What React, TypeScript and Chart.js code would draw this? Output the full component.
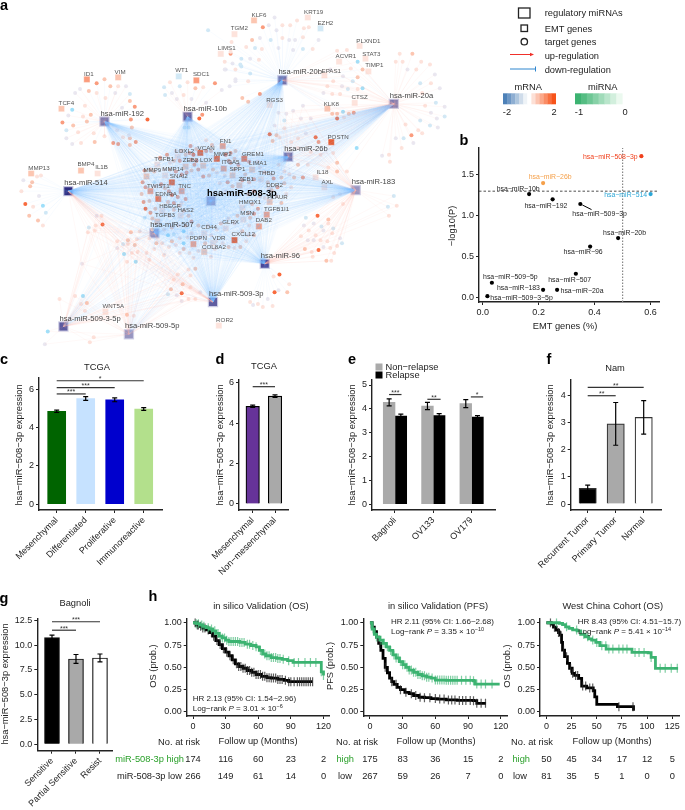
import React, { useEffect, useRef } from "react";
import { Chart, registerables } from "chart.js";

Chart.register(...registerables);

// ---------- DATA ----------
// a: network (x, y in layout units), level = mRNA change class
const hubs: [string, number, number][] = [
  ["hsa-miR-192", 99, 116], ["hsa-miR-10b", 184, 111], ["hsa-miR-20b", 281, 74], ["hsa-miR-20a", 395, 98],
  ["hsa-miR-26b", 287, 152], ["hsa-miR-514", 62, 187], ["hsa-miR-508-3p", 208, 197], ["hsa-miR-183", 356, 186],
  ["hsa-miR-507", 150, 230], ["hsa-miR-96", 263, 261], ["hsa-miR-509-3p", 210, 300],
  ["hsa-miR-509-3-5p", 57, 325], ["hsa-miR-509-5p", 124, 333],
];
// name, x, y, level, label x, label y
const emtGenes: [string, number, number, number, number, number][] = [
  ["ID1", 81, 73, 3, 83, 68], ["VIM", 113, 71, 2, 115, 66], ["TCF4", 55, 103, 2, 60, 97], ["WT1", 175, 70, -1, 178, 64],
  ["SDC1", 193, 74, 3, 198, 68], ["LIMS1", 218, 47, 1, 224, 41], ["TGM2", 232, 27, 1, 237, 21], ["KLF6", 252, 13, 2, 257, 8],
  ["KRT19", 307, 10, 1, 313, 5], ["EZH2", 320, 21, -1, 325, 16], ["PLXND1", 360, 39, 1, 369, 34], ["STAT3", 366, 52, 1, 372, 47],
  ["ACVR1", 339, 55, 1, 346, 50], ["TIMP1", 369, 65, 1, 375, 59], ["EPAS1", 324, 69, 1, 331, 65], ["CTSZ", 355, 97, 1, 360, 91],
  ["KLK8", 327, 103, 2, 331, 98], ["RGS3", 268, 99, 1, 273, 94], ["POSTN", 331, 137, 5, 338, 132], ["IL18", 315, 173, 1, 322, 168],
  ["AXL", 324, 183, 1, 327, 178], ["MMP13", 24, 169, 2, 32, 164], ["BMP4", 75, 166, 2, 80, 160], ["IL1B", 92, 169, 1, 96, 163],
  ["FN1", 220, 141, 3, 223, 136], ["VCAN", 197, 148, 5, 203, 143], ["MMP2", 214, 154, 5, 220, 149], ["LOXL2", 174, 152, 1, 181, 146],
  ["TGFB1", 153, 160, 1, 160, 155], ["ZEB2", 182, 162, 2, 187, 156], ["LOX", 200, 161, 2, 203, 156], ["ITGA5", 221, 164, 3, 228, 158],
  ["MMP9", 142, 172, 2, 148, 166], ["MMP14", 161, 171, 1, 169, 165], ["SNAI2", 168, 178, 5, 175, 172], ["SPP1", 230, 171, 2, 235, 165],
  ["GREM1", 242, 154, 4, 251, 149], ["LIMA1", 250, 165, 2, 256, 159], ["THBD", 259, 175, 1, 265, 169], ["ZEB1", 237, 181, 2, 244, 175],
  ["DDR2", 268, 185, 1, 273, 181], ["PLAUR", 268, 198, 2, 276, 193], ["HMOX1", 240, 204, 1, 248, 198], ["TGFB1I1", 265, 211, 3, 275, 205],
  ["MSN", 241, 216, 1, 245, 210], ["DAB2", 257, 223, 3, 262, 217], ["TWIST1", 146, 187, 3, 154, 182], ["TNC", 178, 187, 3, 181, 182],
  ["EDNRA", 154, 195, 4, 162, 190], ["HBEGF", 158, 207, 1, 166, 202], ["HAS2", 177, 212, 1, 182, 207], ["TGFB3", 153, 218, 2, 161, 212],
  ["CD44", 201, 230, 1, 206, 224], ["GLRX", 223, 225, 1, 228, 219], ["PDPN", 190, 241, 3, 195, 235], ["VDR", 210, 240, 1, 216, 235],
  ["CXCL12", 232, 237, 5, 241, 231], ["COL8A2", 201, 249, 2, 211, 244], ["WNT5A", 100, 310, 1, 108, 304], ["ROR2", 216, 324, 1, 222, 319],
];
const targets192 = [[91,77,3],[99,73,2],[105,80,2],[113,80,1],[121,80,0],[74,83,0],[69,87,0],[83,85,2],[91,87,1],[100,92,1],[110,87,0],[125,88,-1],[125,95,2],[130,101,3],[117,102,0],[66,104,-2],[62,110,0],[79,100,1],[85,109,2],[77,111,1],[126,114,3],[143,114,4],[56,117,3],[67,120,2],[81,116,2],[60,125,-1],[72,127,1],[127,122,2],[131,137,3],[125,133,2],[60,133,0],[66,139,0],[75,138,1],[89,137,2],[108,138,3],[113,139,3],[125,140,2],[99,131,1],[88,128,1],[112,125,0],[124,130,0],[118,132,1]];
const targets10b = [[160,81,-1],[166,76,1],[176,80,-1],[184,76,1],[161,89,-1],[168,87,0],[180,89,1],[192,82,2],[200,81,1],[212,77,3],[219,84,0],[199,109,3],[196,113,4],[181,122,-1],[185,122,-1],[173,93,0],[188,93,0],[203,97,0]];
const targets20b = [[261,20,3],[273,10,0],[281,18,1],[289,18,1],[296,13,1],[303,21,1],[308,20,1],[267,18,0],[275,23,0],[250,33,2],[258,31,0],[269,33,-1],[281,31,1],[288,33,0],[294,33,0],[302,30,1],[318,33,0],[244,40,1],[253,41,-1],[260,42,1],[277,41,0],[292,43,0],[302,42,-1],[312,42,1],[228,47,3],[239,52,-1],[248,52,0],[257,53,1],[230,57,0],[238,58,-1],[248,67,-1],[246,75,1],[233,75,0],[222,63,0],[258,88,3],[240,92,2],[246,96,2],[205,23,-1],[229,35,1],[222,55,1],[228,45,1],[233,63,1],[223,63,0],[239,60,-1],[227,80,0],[233,73,0]];
const targets20a = [[401,47,1],[414,47,2],[397,55,1],[404,55,1],[423,55,1],[432,58,1],[409,63,0],[418,63,1],[437,68,0],[422,77,-1],[433,77,1],[442,82,0],[424,87,1],[438,97,-1],[447,101,0],[427,100,1],[422,115,-1],[433,107,0],[447,111,-1],[439,113,0],[432,120,-1],[440,122,0],[420,125,1],[413,130,3],[424,128,1],[407,119,1],[405,133,-1],[397,133,0],[415,138,0],[403,143,1],[390,150,1],[383,151,0],[391,157,1],[357,143,-2]];
const targetsShared = [[337,44,1],[347,43,1],[358,55,-2],[330,63,0],[351,62,1],[358,71,2],[363,82,-2],[343,70,0],[333,75,1],[342,80,0],[353,75,-1],[327,80,1],[323,87,0],[332,88,1],[340,88,1],[348,83,-1],[343,106,-2],[337,108,2],[349,108,2],[354,107,3],[337,113,4],[332,108,2],[344,112,1],[358,83,1],[363,63,2]];
const targets26b = [[268,129,4],[271,136,2],[275,130,2],[278,132,1],[283,115,-1],[315,132,4],[297,133,1],[305,128,0],[318,137,3],[320,150,1],[333,148,1],[337,158,2],[337,167,2],[328,163,1],[347,167,1],[290,137,1],[297,143,1],[310,147,1],[307,160,1],[297,160,2],[302,173,3],[293,173,2],[283,167,1],[277,160,1],[277,107,0],[285,108,0],[292,105,0],[302,100,0],[300,113,0],[310,113,0],[273,120,0],[283,123,1]];
const targets183 = [[395,192,-1],[389,203,-1],[398,202,1],[390,212,1],[317,212,4],[328,216,2],[305,214,-1],[313,220,0],[321,223,-1],[328,220,1],[333,225,-1],[303,222,0],[308,227,1],[315,232,1],[323,227,0],[332,230,1],[300,233,1],[307,237,0],[313,237,0],[320,237,1],[327,238,1],[340,235,0],[342,240,-1],[337,243,1],[304,246,2],[318,247,4],[311,249,1],[323,244,0],[330,245,1],[334,250,1],[312,254,1],[326,258,2],[331,258,1],[343,200,1],[333,193,1],[340,190,0]];
const targets96 = [[278,272,4],[272,274,1],[288,282,1],[277,288,0],[273,290,4],[286,290,2],[266,297,0],[248,300,1],[256,302,1],[251,303,0],[261,305,1],[271,304,1]];
const targets514 = [[16,176,0],[34,171,1],[23,182,2],[14,187,1],[32,192,0],[18,200,4],[26,203,1],[36,202,-2],[39,209,-1],[22,212,2],[31,217,2],[36,222,1],[25,178,2],[30,172,1]];
const targetsMid = [[91,212,0],[96,212,1],[83,224,-1],[97,221,4],[90,222,1],[89,227,1],[82,229,1],[126,229,2],[112,238,1],[123,237,2],[130,242,2],[118,241,-1],[123,241,1],[112,245,0],[119,251,-2],[127,250,1],[133,249,1],[142,250,1],[122,259,1],[131,259,-2],[145,257,1],[76,261,0],[192,266,2],[185,267,1],[174,272,1],[187,273,1],[179,282,2],[170,277,1],[167,287,2],[187,285,1],[164,292,-1],[173,293,0],[178,291,4],[185,297,1],[178,299,0],[192,297,1],[197,290,0]];
const targets509 = [[53,297,1],[69,294,1],[77,294,-2],[75,302,1],[81,301,2],[79,309,1],[122,313,2],[129,314,1],[41,330,-2],[38,343,0],[88,336,1],[84,341,1]];
const targetsCenter = [[187,141,3],[193,144,2],[190,150,4],[186,148,3],[182,150,2],[178,146,2],[172,146,1],[163,150,3],[156,153,3],[166,158,1],[170,156,2],[176,156,3],[193,156,4],[188,155,3],[191,160,3],[195,165,3],[188,166,2],[183,168,3],[178,170,3],[172,167,3],[166,165,2],[160,165,1],[150,167,2],[146,165,2],[140,166,3],[138,178,3],[141,183,3],[137,190,2],[139,198,3],[145,197,2],[141,205,4],[146,209,3],[151,205,2],[148,215,2],[140,214,-1],[150,178,-1],[151,182,1],[157,180,3],[161,184,2],[165,187,3],[168,191,4],[174,193,3],[170,199,3],[164,198,2],[170,206,2],[165,212,1],[176,202,2],[182,195,3],[178,199,1],[180,207,2],[185,212,2],[188,218,3],[182,222,2],[175,222,1],[168,224,2],[160,226,1],[164,232,-2],[170,231,-1],[180,228,-2],[176,235,1],[168,238,2],[172,242,1],[180,240,-2],[184,234,1],[188,230,1],[180,246,2],[186,250,1],[190,255,1],[176,250,1],[165,244,1],[158,240,1],[160,252,1],[150,246,1],[152,240,2],[203,135,1],[209,140,2],[203,146,3],[208,146,2],[223,150,4],[228,148,3],[233,146,2],[226,156,3],[232,154,2],[236,160,3],[232,165,2],[228,158,3],[222,171,1],[214,168,1],[210,165,2],[206,171,2],[200,172,3],[243,170,2],[240,176,3],[247,178,2],[252,175,3],[247,157,3],[256,157,1],[258,163,1],[263,168,2],[270,170,1],[266,178,2],[272,174,3],[280,173,2],[288,170,1],[270,186,2],[276,183,3],[283,179,2],[230,182,2],[225,178,3],[223,187,1],[217,179,1],[246,190,2],[252,187,3],[258,192,2],[263,194,1],[275,192,1],[280,199,2],[285,190,1],[290,183,1],[256,205,3],[250,200,2],[252,210,3],[246,209,2],[248,214,2],[235,212,2],[232,220,1],[226,215,1],[218,220,2],[214,226,1],[247,222,1],[252,232,2],[246,232,1],[240,228,2],[244,238,1],[238,244,2],[232,245,1],[226,244,2],[220,240,1],[213,238,1],[208,232,1],[195,222,2],[205,222,1],[197,235,1],[212,246,1],[202,240,2],[195,248,1],[208,254,1],[135,228,1],[132,236,1],[145,235,1],[148,226,2]];

// b
const bNames = ["hsa−miR−508−3p", "hsa−miR−26b", "hsa−miR−10b", "hsa−miR−514", "hsa−miR−192", "hsa−miR−509−3p", "hsa−miR−20b", "hsa−miR−96", "hsa−miR−509−5p", "hsa−miR−507", "hsa−miR−183", "hsa−miR−20a", "hsa−miR−509−3−5p"];
const bEmt = [0.567, 0.216, 0.166, 0.6, 0.25, 0.349, 0.484, 0.384, 0.033, 0.333, 0.216, 0.266, 0.017];
const bLogP = [1.73, 1.4, 1.265, 1.265, 1.2, 1.143, 0.725, 0.62, 0.176, 0.287, 0.09, 0.09, 0.012];
const bLabelX = [0.456, 0.241, 0.127, 0.511, 0.226, 0.418, 0.507, 0.359, 0.099, 0.311, 0.128, 0.355, 0.139];
const bLabelY = [1.72, 1.47, 1.328, 1.258, 1.123, 1.016, 0.787, 0.549, 0.246, 0.209, 0.115, 0.078, -0.016];
const bLogPCut = 1.3;
const bEmtCut = 0.5;

// c
const cCats = ["Mesenchymal", "Differentiated", "Proliferative", "Immunoreactive"];
const cVals = [4.85, 5.52, 5.45, 4.97];
const cErr = [0.06, 0.1, 0.1, 0.07];
// d
const dCats = ["Mesenchymal", "Non−mesenchymal"];
const dVals = [4.83, 5.33];
const dErr = [0.06, 0.06];
// e
const eCats = ["Bagnoli", "OV133", "OV179"];
const eNon = [4.27, 4.12, 4.22];
const eNonErr = [0.15, 0.15, 0.17];
const eRel = [3.7, 3.72, 3.65];
const eRelErr = [0.08, 0.08, 0.06];
// f
const fCats = ["Recurrent Tumor", "Primary Tumor", "Normal"];
const fVals = [0.58, 2.96, 3.2];
const fErr = [0.12, 0.79, 0.62];
// g
const gCats = ["Sensitive", "Partial Sensitive", "Resist"];
const gVals = [10.75, 8.6, 8.7];
const gErr = [0.25, 0.45, 0.4];

// h: survival curves
const h1HighX = [0,3,6,9,12,15,18,21,24,27,30,33,38,43,48,53,58,61,64,67,72,77,82,87,92,117,118,120];
const h1HighY = [1,.99,.975,.96,.945,.93,.91,.88,.85,.83,.805,.79,.79,.78,.76,.745,.73,.69,.65,.63,.61,.60,.59,.575,.555,.555,.45,.41];
const h1LowX = [0,3,6,9,12,15,18,21,24,27,30,33,36,39,42,46,50,54,58,63,68,72,78,84,88,110];
const h1LowY = [1,.975,.96,.94,.92,.89,.85,.80,.755,.71,.67,.63,.585,.54,.51,.49,.465,.445,.42,.40,.385,.38,.365,.355,.34,.34];
const h1HighCens = [3,5,8,10,14,17,20,23,25,27,29,31,33,35,37,39,41,43,45,47,50,52,55,58,62,66,68,70,72,74,76,78,80,83,88,93,97,103,108,113,118,120];
const h1LowCens = [2,4,5,7,9,11,14,17,19,22,25,28,31,34,37,40,42,44,46,48,50,52,54,56,58,60,62,64,66,68,70,72,74,76,78,80,82,85,88,90,93,96,98,100,102,104,106,108,110];
const h1High = [174, 116, 60, 23, 2];
const h1Low = [266, 149, 61, 14, 0];

const h2HighX = [0,2,4,6,9,12,15,18,21,24,27,30,33,36,40,44,48,52,56,60,70,95,96.5,119];
const h2HighY = [1,.93,.87,.84,.805,.77,.73,.69,.64,.605,.565,.53,.5,.47,.445,.42,.405,.39,.38,.358,.355,.35,.313,.313];
const h2LowX = [0,2,4,6,8,10,12,14,16,18,20,22,25,28,32,36,40,45,50,56,62,70,80,95,98,106.5];
const h2LowY = [1,.95,.9,.84,.77,.69,.6,.5,.44,.38,.34,.31,.275,.25,.22,.205,.185,.165,.16,.15,.145,.135,.13,.127,.097,.097];
const h2HighCens = [3,6,10,13,16,19,22,24,26,28,30,32,34,36,38,40,42,44,46,48,50,52,54,57,60,62,64,66,68,70,72,74,76,78,80,84,88,92,95,98,102,106,112];
const h2LowCens = [9,14,20,24,28,33,38,42,46,50,55,60,64,68,72,75,78,82,85,88,92,95,98,102,106];
const h2High = [175, 83, 36, 15, 2];
const h2Low = [267, 59, 26, 7, 0];

const h3HighX = [0,12.8,16,19,22.4,26,30.4,34,38.5,42,44.9,49,53,59.3,83.3,85,101,104,108.3,130.8];
const h3HighY = [1,.993,.98,.955,.937,.92,.91,.87,.843,.82,.806,.78,.743,.705,.705,.668,.664,.612,.489,.489];
const h3LowX = [0,4.8,7,9.6,12,13.5,15,16,18,20.8,23,25.6,28,32,35,40,46.5,48,50,70.5,86.5];
const h3LowY = [1,.985,.95,.918,.89,.862,.78,.694,.62,.545,.49,.433,.41,.377,.29,.27,.239,.17,.086,.06,.015];
const h3HighCens = [10,20,30,37,41,46,50,55,59,62,66,72,76,80,88,92,97,104,113,118,124,130];
const h3LowCens = [4,8,12,14,17,20,24,26,29,31,36,39,43,46,72,86];
const h3High = [50, 45, 34, 17, 12, 5];
const h3Low = [81, 35, 5, 1, 0, 0];

// ---------- STYLE ----------
const FONT = '"Liberation Sans", Arial, sans-serif';
const INK = "#222";
const GREEN = "#3cb371";
const W = 685, H = 810;
const LABEL = 9.3;
const levelColor: Record<string, string> = {
  "-2": "#9fe0fa", "-1": "#d2e9f6", "0": "#eae8f1", "1": "#fde3dc", "2": "#fcc6b1",
  "3": "#fb9c7d", "4": "#f96a3c", "5": "#f84e12",
};
const hubColors = ["#7a78ae", "#6664a4", "#7372aa", "#7d7bb0", "#7170a9", "#2f2d80", "#9b97c3", "#9a96c1", "#8b88b8", "#4a489a", "#5f5da0", "#5c5a9f", "#9795c0"];
const mrnaRamp = ["#4d81b8", "#6d97c5", "#8eaed2", "#aec6de", "#cfdcea", "#eef3f7", "#ffffff", "#fde0d6", "#fcc4b0", "#fba88a", "#fa8c65", "#f86f3f", "#f7531a"];
const mirnaRamp = ["#3cb371", "#55bd83", "#6ec795", "#87d1a7", "#a0dbb9", "#b9e5cb", "#d2efdd", "#ebf9ef"];

type Opt = { size?: number; color?: string; align?: CanvasTextAlign; rot?: number; weight?: string; italic?: boolean };
function put(ctx: CanvasRenderingContext2D, t: string, x: number, y: number, o: Opt = {}) {
  const { size = LABEL, color = INK, align = "center", rot = 0, weight = "normal", italic = false } = o;
  ctx.save();
  ctx.translate(x, y);
  if (rot) ctx.rotate((rot * Math.PI) / 180);
  ctx.font = `${italic ? "italic " : ""}${weight} ${size}px ${FONT}`;
  ctx.fillStyle = color;
  ctx.textAlign = align;
  ctx.textBaseline = "middle";
  ctx.fillText(t, 0, 0);
  ctx.restore();
}
function logRank(ctx: CanvasRenderingContext2D, x: number, y: number, mant: string, exp: string) {
  const parts: [string, number, boolean, number][] = [["Log−rank ", 8, false, 0], ["P", 8, true, 0], [` = ${mant} × 10`, 8, false, 0], [exp, 5.5, false, -3]];
  let cx = x;
  for (const [t, s, it, dy] of parts) {
    put(ctx, t, cx, y + dy, { size: s, italic: it, align: "left" });
    ctx.font = `${it ? "italic " : ""}${s}px ${FONT}`;
    cx += ctx.measureText(t).width;
  }
}
const overlay = (draw: (chart: any, ctx: CanvasRenderingContext2D) => void) => ({
  id: "overlay",
  afterDatasetsDraw(chart: any) { draw(chart, chart.ctx); },
});
const axis = (min: number, max: number, step: number, cb?: (v: any) => string, extra: any = {}) => ({
  type: "linear", min, max, offset: false,
  border: { display: true, color: INK, width: 1.4 },
  grid: { display: true, drawOnChartArea: false, drawTicks: true, tickLength: 3, tickColor: INK, tickWidth: 1, offset: false },
  ticks: { stepSize: step, includeBounds: false, autoSkip: false, padding: 2, color: INK, font: { family: FONT, size: 9 }, ...(cb ? { callback: cb } : {}), ...extra },
});
const catAxis = (cats: string[], min: number, max: number) =>
  axis(min, max, 1, (v: any) => cats[v] ?? "", { minRotation: 45, maxRotation: 45 });
const base = (l: number, t: number, r: number, b: number, scales: any) => {
  const fix = (s: any, dim: "width" | "height", v: number) => {
    s[dim] = v;
    s.paddingLeft = s.paddingRight = s.paddingTop = s.paddingBottom = 0;
  };
  if (scales.x.display !== false) {
    scales.x.afterFit = (s: any) => fix(s, "height", H - b);
    scales.y.afterFit = (s: any) => fix(s, "width", l);
  }
  return {
    responsive: false, maintainAspectRatio: false, animation: false as const,
    layout: { padding: { left: 0, top: t, right: W - r, bottom: 0 } },
    plugins: { legend: { display: false }, tooltip: { enabled: false } },
    events: [] as any[], scales,
  };
};
const pts = (vals: number[]) => vals.map((y, x) => ({ x, y }));

function errBars(chart: any) {
  const ctx = chart.ctx, y = chart.scales.y;
  chart.data.datasets.forEach((ds: any, i: number) => {
    if (!ds.errs) return;
    chart.getDatasetMeta(i).data.forEach((el: any, k: number) => {
      const v = ds.data[k].y, e = ds.errs[k];
      const hi = y.getPixelForValue(v + e), lo = y.getPixelForValue(v - e);
      ctx.save();
      ctx.strokeStyle = "#000"; ctx.lineWidth = 1.2;
      ctx.beginPath();
      ctx.moveTo(el.x, hi); ctx.lineTo(el.x, lo);
      ctx.moveTo(el.x - 2.5, hi); ctx.lineTo(el.x + 2.5, hi);
      ctx.moveTo(el.x - 2.5, lo); ctx.lineTo(el.x + 2.5, lo);
      ctx.stroke();
      ctx.restore();
    });
  });
}
function brackets(chart: any, list: [number, number, number, string][]) {
  const ctx = chart.ctx, { x, y } = chart.scales;
  for (const [a, b, v, s] of list) {
    const px0 = x.getPixelForValue(a), px1 = x.getPixelForValue(b), py = y.getPixelForValue(v);
    ctx.save();
    ctx.strokeStyle = "#333"; ctx.lineWidth = 1.2;
    ctx.beginPath(); ctx.moveTo(px0, py); ctx.lineTo(px1, py); ctx.stroke();
    ctx.restore();
    put(ctx, s, (px0 + px1) / 2, py - 1.5, { size: 7, color: "#333" });
  }
}
const yLabel = "hsa−miR−508−3p expression";

function barChart(o: { cats: string[]; datasets: any[]; box: number[]; xr: number[]; yr: number[]; step: number; fmt?: (v: any) => string; title?: [string, number, number]; yTitle: [number, number]; sig: [number, number, number, string][]; extra?: (ctx: CanvasRenderingContext2D) => void; }) {
  const [l, t, r, b] = o.box;
  return {
    type: "bar",
    data: { datasets: o.datasets },
    options: base(l, t, r, b, { x: catAxis(o.cats, o.xr[0], o.xr[1]), y: axis(o.yr[0], o.yr[1], o.step, o.fmt) }),
    plugins: [overlay((chart, ctx) => {
      errBars(chart);
      brackets(chart, o.sig);
      if (o.title) put(ctx, o.title[0], o.title[1], o.title[2]);
      put(ctx, yLabel, o.yTitle[0], o.yTitle[1], { rot: -90 });
      o.extra && o.extra(ctx);
    })],
  };
}
const stepAt = (xs: number[], ys: number[], x: number) => {
  let k = 0;
  xs.forEach((v, i) => { if (v <= x) k = i; });
  return ys[k];
};
function kmChart(o: { box: number[]; xr: number[]; xStep: number; curves: number[][]; cens: number[][]; title: [string, number]; yTitle: [string, number]; hr: [string, number, number]; lr: [string, string, number, number]; risk: [number[], number[]]; riskX: number[]; nar: number; xt: number; names: [string, number, string, number]; }) {
  const [l, t, r, b] = o.box;
  const [hx, hy, lx, ly] = o.curves;
  const line = (xs: number[], ys: number[], c: string) => ({
    type: "scatter", showLine: true, stepped: true, data: xs.map((x, i) => ({ x, y: ys[i] })),
    borderColor: c, borderWidth: 2.8, pointRadius: 0, borderCapStyle: "butt",
  });
  const marks = (cs: number[], xs: number[], ys: number[], c: string) => ({
    type: "scatter", showLine: false, data: cs.map((x) => ({ x, y: stepAt(xs, ys, x) })),
    pointStyle: "line", pointRotation: 90, pointRadius: 4.5, pointBorderColor: c, pointBorderWidth: 1.2, borderColor: c,
  });
  return {
    type: "scatter",
    data: { datasets: [
      marks(o.cens[0], hx, hy, "rgba(60,179,113,0.65)"), line(hx, hy, GREEN),
      marks(o.cens[1], lx, ly, "rgba(40,40,40,0.75)"), line(lx, ly, "#000"),
    ] },
    options: base(l, t, r, b, {
      x: axis(o.xr[0], o.xr[1], o.xStep),
      y: axis(-0.045, 1.05, 0.25, (v: any) => Number(v).toFixed(2)),
    }),
    plugins: [overlay((chart, ctx) => {
      const x = chart.scales.x;
      put(ctx, o.title[0], o.title[1], 606);
      put(ctx, o.yTitle[0], o.yTitle[1], 666, { rot: -90 });
      put(ctx, o.hr[0], o.hr[1], o.hr[2], { size: 8, align: "left" });
      logRank(ctx, o.lr[2], o.lr[3], o.lr[0], o.lr[1]);
      put(ctx, "No. at risk", o.nar, 742);
      put(ctx, "Follow up (Months)", o.xt, 741);
      put(ctx, o.names[0], o.names[1], 759, { color: "#2aa02a", align: "right" });
      put(ctx, o.names[2], o.names[3], 776, { align: "right" });
      o.riskX.forEach((v, i) => {
        put(ctx, String(o.risk[0][i]), x.getPixelForValue(v), 759);
        put(ctx, String(o.risk[1][i]), x.getPixelForValue(v), 776);
      });
    })],
  };
}

// ---------- NETWORK ----------
const hubIdx = (n: string) => hubs.findIndex((h) => h[0] === "hsa-miR-" + n);
const clusters: [number[][], string[], string][] = [
  [targets192, ["192"], "mix"],
  [targets10b, ["10b"], "mix"],
  [targets20b, ["20b"], "blue"],
  [targets20a, ["20a"], "pink"],
  [targetsShared, ["20b", "20a"], "mix"],
  [targets26b, ["26b", "20a", "183"], "mix"],
  [targets183, ["183", "96"], "pink"],
  [targets96, ["96"], "blue"],
  [targets514, ["514"], "blue"],
  [targetsMid, ["514", "507", "509-3-5p", "509-5p", "509-3p"], "mix"],
  [targets509, ["509-3-5p", "509-5p"], "pink"],
  [targetsCenter, ["508-3p", "514", "192", "10b", "20b", "20a", "26b", "183", "96", "509-3p", "507"], "blue"],
];
function networkConfig() {
  const blue: { x: number; y: number | null }[][] = hubs.map(() => []);
  const pink: { x: number; y: number | null }[][] = hubs.map(() => []);
  const link = (store: any[][], hub: number, p: number[]) => {
    store[hub].push({ x: hubs[hub][1], y: hubs[hub][2] }, { x: p[0], y: p[1] }, { x: p[0], y: null });
  };
  clusters.forEach(([list, names, tone]) => {
    list.forEach((p) => names.forEach((n) => {
      const isBlue = tone === "blue" || (tone === "mix" && p[2] >= 2);
      link(isBlue ? blue : pink, hubIdx(n), p);
    }));
  });
  emtGenes.forEach((g) => {
    const inCenter = g[1] > 135 && g[1] < 295 && g[2] > 135 && g[2] < 255;
    const names = inCenter ? ["508-3p", "514", "192", "10b", "20b", "20a", "26b", "183", "96", "509-3p", "507", "509-3-5p", "509-5p"] : [];
    names.forEach((n) => link(blue, hubIdx(n), [g[1], g[2]]));
  });
  const edge = (d: any[], c: string, w: number) => ({ type: "scatter", showLine: true, spanGaps: false, data: d, borderColor: c, borderWidth: w, pointRadius: 0 });
  const allT = clusters.flatMap((c) => c[0]);
  const datasets: any[] = [
    ...pink.map((d) => edge(d, "rgba(250,175,165,0.2)", 0.4)),
    ...blue.map((d) => edge(d, "rgba(125,195,255,0.12)", 0.4)),
    { type: "scatter", data: allT.map((p) => ({ x: p[0], y: p[1] })), pointRadius: 2, pointBorderWidth: 0, pointBackgroundColor: allT.map((p) => levelColor[String(p[2])] ), pointStyle: "circle" },
    { type: "scatter", data: emtGenes.map((g) => ({ x: g[1], y: g[2] })), pointRadius: 4.4, pointBorderWidth: 0.6, pointBorderColor: "rgba(255,255,255,0.7)", pointBackgroundColor: emtGenes.map((g) => levelColor[String(g[3])]), pointStyle: "rect" },
    { type: "scatter", data: hubs.map((h) => ({ x: h[1], y: h[2] })), pointRadius: 6.5, pointBorderWidth: 1.2, pointBorderColor: "rgba(205,205,228,0.9)", pointBackgroundColor: hubColors, pointStyle: "rect" },
  ];
  const off = { type: "linear", min: 0, max: W, display: false };
  const opts: any = base(0, 0, W, H, { x: off, y: { type: "linear", min: 0, max: H, display: false, reverse: true } });
  return {
    type: "scatter",
    data: { datasets },
    options: opts,
    plugins: [overlay((chart, ctx) => {
      const { x, y } = chart.scales;
      emtGenes.forEach((g) => put(ctx, g[0], x.getPixelForValue(g[4]), y.getPixelForValue(g[5]), { size: 6.2, color: "#555" }));
      hubs.forEach((h) => {
        const main = h[0] === "hsa-miR-508-3p";
        put(ctx, h[0], x.getPixelForValue(h[1]) - 4, y.getPixelForValue(h[2]) - 8, main ? { size: 9.4, weight: "bold", color: "#000", align: "left" } : { size: 7.6, color: "#444", align: "left" });
      });
      // panel letters
      ([["a", 4, 6], ["b", 464, 141], ["c", 4, 360], ["d", 220, 360], ["e", 352, 360], ["f", 549, 360], ["g", 4, 599], ["h", 153, 597]] as [string, number, number][])
        .forEach(([t, px, py]) => put(ctx, t, px, py, { size: 14.5, weight: "bold", color: "#000" }));
      // legend
      ctx.save();
      ctx.strokeStyle = "#222"; ctx.lineWidth = 1.3;
      ctx.strokeRect(518.5, 8, 11.5, 10);
      ctx.strokeRect(521, 25, 6.5, 6.5);
      ctx.beginPath(); ctx.arc(524.3, 41.7, 3.2, 0, Math.PI * 2); ctx.stroke();
      ctx.strokeStyle = "#f0302a"; ctx.lineWidth = 1;
      ctx.beginPath(); ctx.moveTo(510, 54.5); ctx.lineTo(532, 54.5); ctx.stroke();
      ctx.fillStyle = "#f0302a";
      ctx.beginPath(); ctx.moveTo(534, 54.5); ctx.lineTo(530, 52.8); ctx.lineTo(530, 56.2); ctx.fill();
      ctx.strokeStyle = "#2f86cf";
      ctx.beginPath(); ctx.moveTo(510, 69); ctx.lineTo(535.5, 69); ctx.moveTo(535.5, 66.5); ctx.lineTo(535.5, 71.5); ctx.stroke();
      const ramp = (cols: string[], x0: number, x1: number) => {
        const w = (x1 - x0) / cols.length;
        cols.forEach((c, i) => { ctx.fillStyle = c; ctx.fillRect(x0 + i * w, 93.3, w + 0.3, 11); });
      };
      ramp(mrnaRamp, 503, 555.7);
      ramp(mirnaRamp, 575, 622.3);
      ctx.restore();
      ([["regulatory miRNAs", 13.5], ["EMT genes", 29], ["target genes", 42], ["up-regulation", 56], ["down-regulation", 70]] as [string, number][])
        .forEach(([t, py]) => put(ctx, t, 544.7, py, { align: "left" }));
      put(ctx, "mRNA", 528.3, 87);
      put(ctx, "miRNA", 602.7, 87);
      ([["-2", 507], ["2", 554], ["-1", 579], ["0", 625]] as [string, number][]).forEach(([t, px]) => put(ctx, t, px, 112));
    })],
  };
}

function bConfig() {
  const colors = bNames.map((_, i) => (i === 0 ? "#f0401c" : i === 1 ? "#f5a04a" : i === 3 ? "#2ba6d6" : "#000"));
  const xr = [-0.013, 0.63], yr = [-0.06, 1.83];
  return {
    type: "scatter",
    data: { datasets: [
      { type: "scatter", showLine: true, data: [{ x: xr[0], y: bLogPCut }, { x: xr[1], y: bLogPCut }], borderColor: "#222", borderWidth: 0.8, borderDash: [2.5, 2], pointRadius: 0 },
      { type: "scatter", showLine: true, data: [{ x: bEmtCut, y: yr[0] }, { x: bEmtCut, y: yr[1] }], borderColor: "#888", borderWidth: 1.2, borderDash: [1.5, 1.5], pointRadius: 0 },
      { type: "scatter", showLine: true, data: [{ x: 0.356, y: 1.131 }, { x: 0.389, y: 1.074 }], borderColor: "#000", borderWidth: 1, pointRadius: 0 },
      { type: "scatter", data: bEmt.map((x, i) => ({ x, y: bLogP[i] })), pointRadius: 2.1, pointBorderWidth: 0, pointBackgroundColor: colors },
    ] },
    options: base(479, 148, 659, 302, {
      x: axis(xr[0], xr[1], 0.2, (v: any) => Number(v).toFixed(1)),
      y: axis(yr[0], yr[1], 0.5, (v: any) => Number(v).toFixed(1)),
    }),
    plugins: [overlay((chart, ctx) => {
      const { x, y } = chart.scales;
      bNames.forEach((n, i) => put(ctx, n, x.getPixelForValue(bLabelX[i]), y.getPixelForValue(bLabelY[i]), { size: 6.9, color: i === 0 ? "#f0401c" : i === 1 ? "#f5a04a" : i === 3 ? "#2ba6d6" : "#222" }));
      put(ctx, "EMT genes (%)", 565, 326);
      put(ctx, "−log10(P)", 452, 226, { rot: -90 });
    })],
  };
}

function allConfigs(): any[] {
  const flat = (vals: number[], errs: number[], thick: number, bg: any, border?: string, bw = 0) => ({ data: pts(vals), errs, barThickness: thick, backgroundColor: bg, borderColor: border, borderWidth: bw });
  return [
    networkConfig(),
    bConfig(),
    barChart({
      cats: cCats, datasets: [flat(cVals, cErr, 18, ["#006400", "#c6e2ff", "#0000cd", "#b3e08c"])],
      box: [39, 377.3, 162, 510], xr: [-0.61, 3.63], yr: [-0.31, 6.63], step: 2, title: ["TCGA", 97, 367], yTitle: [19, 445],
      sig: [[0, 1, 5.76, "***"], [0, 2, 6.09, "***"], [0, 3, 6.45, "*"]],
    }),
    barChart({
      cats: dCats, datasets: [flat(dVals, dErr, 13.5, ["#663399", "#a9a9a9"], "#000", 1.2)],
      box: [239, 380, 288.7, 510], xr: [-0.614, 1.614], yr: [-0.3, 6.13], step: 2, title: ["TCGA", 264, 366], yTitle: [220, 445],
      sig: [[0, 1, 5.8, "***"]],
    }),
    barChart({
      cats: eCats,
      datasets: [flat(eNon, eNonErr, 11.7, "#aaaaaa"), flat(eRel, eRelErr, 11.7, "#000000")],
      box: [372, 379.3, 495, 510], xr: [-0.6, 2.61], yr: [-0.25, 5.24], step: 1, yTitle: [352, 445],
      sig: [[-0.155, 0.17, 4.6, "***"], [0.845, 1.19, 4.4, "**"], [1.98, 2.3, 4.5, "*"]],
      extra: (ctx) => {
        ctx.fillStyle = "#aaaaaa"; ctx.fillRect(375.5, 363.5, 7, 7);
        ctx.fillStyle = "#000"; ctx.fillRect(375.5, 371.5, 7, 7);
        put(ctx, "Non−relapse", 385.5, 367, { align: "left" });
        put(ctx, "Relapse", 385.5, 375.5, { align: "left" });
      },
    }),
    barChart({
      cats: fCats, datasets: [flat(fVals, fErr, 17.3, ["#000000", "#a9a9a9", "#ffffff"], "#333", 1.2)],
      box: [570.7, 380, 661, 510], xr: [-0.607, 2.618], yr: [-0.22, 4.58], step: 1, title: ["Nam", 615, 368], yTitle: [550, 445],
      sig: [[0, 1, 4.0, "**"], [0, 2, 4.31, "**"]],
    }),
    barChart({
      cats: gCats, datasets: [flat(gVals, gErr, 15, ["#000000", "#a9a9a9", "#ffffff"], "#111", 1.2)],
      box: [37.3, 618.3, 112.7, 750.7], xr: [-0.6125, 2.53], yr: [-0.65, 12.7], step: 2.5, fmt: (v: any) => Number(v).toFixed(1), title: ["Bagnoli", 75, 603], yTitle: [5, 684],
      sig: [[0, 1, 11.5, "***"], [0, 2, 12.35, "***"]],
    }),
    kmChart({
      box: [186.7, 618.3, 330, 716], xr: [-5.8, 126], xStep: 30, curves: [h1HighX, h1HighY, h1LowX, h1LowY], cens: [h1HighCens, h1LowCens],
      title: ["in silico Validation (OS)", 261], yTitle: ["OS (prob.)", 153], hr: ["HR 2.13 (95% CI: 1.54~2.96)", 192.7, 699], lr: ["3.01", "−6", 192.7, 709],
      risk: [h1High, h1Low], riskX: [0, 30, 60, 90, 120], nar: 179, xt: 258, names: ["miR-508-3p high", 184, "miR-508-3p low", 182],
    }),
    kmChart({
      box: [363.3, 618.3, 507.3, 716], xr: [-6.1, 126], xStep: 30, curves: [h2HighX, h2HighY, h2LowX, h2LowY], cens: [h2HighCens, h2LowCens],
      title: ["in silico Validation (PFS)", 438], yTitle: ["PFS (prob.)", 330], hr: ["HR 2.11 (95% CI: 1.66~2.68)", 391, 622], lr: ["3.35", "−10", 391, 632],
      risk: [h2High, h2Low], riskX: [0, 30, 60, 90, 120], nar: 357, xt: 436, names: ["high", 354, "low", 352],
    }),
    kmChart({
      box: [540, 618.3, 684, 716], xr: [-6.4, 132], xStep: 25, curves: [h3HighX, h3HighY, h3LowX, h3LowY], cens: [h3HighCens, h3LowCens],
      title: ["West China Cohort (OS)", 612.7], yTitle: ["OS (prob.)", 507], hr: ["HR 8.43 (95% CI: 4.51~15.7)", 577.7, 622], lr: ["5.41", "−14", 578, 632],
      risk: [h3High, h3Low], riskX: [0, 25, 50, 75, 100, 125], nar: 532, xt: 612, names: ["high", 530, "low", 527],
    }),
  ];
}

const COUNT = 10;
export default function App() {
  const refs = useRef<(HTMLCanvasElement | null)[]>([]);
  useEffect(() => {
    const cfgs = allConfigs();
    const charts = cfgs.map((c, i) => new Chart(refs.current[i] as HTMLCanvasElement, c));
    return () => charts.forEach((c) => c.destroy());
  }, []);
  return (
    <div style={{ position: "absolute", left: 0, top: 0, width: W, height: H, background: "#fff", overflow: "hidden" }}>
      {Array.from({ length: COUNT }, (_, i) => (
        <canvas key={i} ref={(el) => { refs.current[i] = el; }} width={W} height={H} style={{ position: "absolute", left: 0, top: 0 }} />
      ))}
    </div>
  );
}
